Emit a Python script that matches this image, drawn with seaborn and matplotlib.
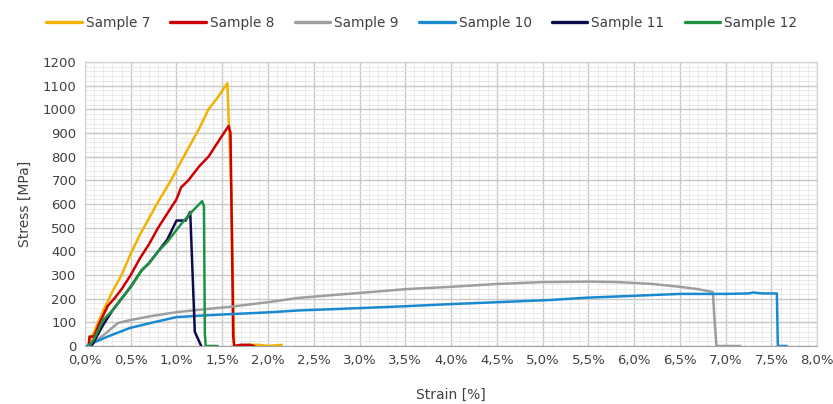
import pandas as pd
import seaborn as sns
import matplotlib.pyplot as plt
from matplotlib.ticker import MultipleLocator, FuncFormatter

# Stress-strain curves (strain in %, stress in MPa)
s7_strain = [0.03, 0.10, 0.20, 0.30, 0.40, 0.50, 0.60, 0.70, 0.80, 0.94, 1.05, 1.15, 1.25, 1.35, 1.45, 1.556, 1.60, 1.63, 1.70, 1.80, 1.90, 2.00, 2.15]
s7_stress = [0, 60, 150, 230, 300, 390, 470, 540, 610, 700, 780, 850, 920, 1000, 1050, 1110, 650, 0, 0, 5, 5, 0, 5]

s8_strain = [0.04, 0.05, 0.10, 0.15, 0.20, 0.25, 0.32, 0.40, 0.50, 0.60, 0.70, 0.80, 0.90, 1.00, 1.05, 1.13, 1.25, 1.35, 1.45, 1.57, 1.59, 1.62, 1.63, 1.70, 1.80, 1.85]
s8_stress = [0, 40, 40, 90, 130, 170, 200, 240, 300, 370, 430, 500, 560, 620, 670, 700, 760, 800, 860, 930, 900, 40, 0, 5, 5, 0]

s9_strain = [0.05, 0.20, 0.36, 0.50, 0.75, 1.00, 1.30, 1.57, 2.00, 2.33, 2.70, 3.00, 3.50, 4.00, 4.50, 5.00, 5.50, 5.82, 6.20, 6.50, 6.70, 6.86, 6.88, 6.90, 7.16]
s9_stress = [0, 45, 97, 110, 128, 143, 155, 165, 185, 203, 215, 224, 240, 250, 262, 270, 272, 270, 262, 250, 240, 228, 100, 0, 0]

s10_strain = [0.02, 0.10, 0.25, 0.49, 0.75, 1.00, 1.25, 1.50, 2.00, 2.33, 3.00, 3.50, 4.00, 4.50, 5.07, 5.48, 5.93, 6.50, 7.00, 7.25, 7.30, 7.40, 7.56, 7.57, 7.67]
s10_stress = [0, 15, 40, 76, 100, 122, 128, 133, 142, 150, 160, 168, 177, 185, 194, 204, 211, 220, 220, 222, 226, 222, 222, 0, 0]

s11_strain = [0.07, 0.10, 0.20, 0.30, 0.40, 0.50, 0.62, 0.70, 0.80, 0.90, 1.00, 1.10, 1.15, 1.20, 1.27]
s11_stress = [0, 20, 90, 150, 200, 250, 320, 350, 400, 450, 530, 530, 566, 60, 0]

s12_strain = [0.05, 0.10, 0.20, 0.30, 0.40, 0.50, 0.62, 0.70, 0.80, 0.90, 1.04, 1.15, 1.28, 1.30, 1.31, 1.32, 1.45]
s12_stress = [0, 30, 110, 150, 200, 250, 320, 350, 400, 440, 510, 560, 612, 590, 50, 0, 0]

samples = ["Sample 7", "Sample 8", "Sample 9", "Sample 10", "Sample 11", "Sample 12"]
colors = ["#F2B200", "#CC0000", "#9E9E9E", "#1A8AD0", "#0B0B4A", "#1F9142"]

strains = [s7_strain, s8_strain, s9_strain, s10_strain, s11_strain, s12_strain]
stresses = [s7_stress, s8_stress, s9_stress, s10_stress, s11_stress, s12_stress]

frames = []
for name, x, y in zip(samples, strains, stresses):
    frames.append(pd.DataFrame({"strain": x, "stress": y, "sample": name}))
df = pd.concat(frames, ignore_index=True)

sns.set_style("white")
plt.rcParams['font.family'] = ['DejaVu Sans']

fig = plt.figure(figsize=(8.33, 4.04), dpi=100)
ax = fig.add_axes([0.102, 0.1436, 0.879, 0.703])

sns.lineplot(data=df, x="strain", y="stress", hue="sample", hue_order=samples,
             palette=colors, sort=False, estimator=None, linewidth=1.8, ax=ax)

ax.set_xlim(0, 8)
ax.set_ylim(0, 1200)
ax.xaxis.set_major_locator(MultipleLocator(0.5))
ax.xaxis.set_minor_locator(MultipleLocator(0.1))
ax.yaxis.set_major_locator(MultipleLocator(100))
ax.yaxis.set_minor_locator(MultipleLocator(20))
ax.xaxis.set_major_formatter(FuncFormatter(lambda v, p: f"{v:.1f}%".replace(".", ",")))

ax.grid(which="major", color="#C8C8C8", linewidth=1.0)
ax.grid(which="minor", color="#E6E6E6", linewidth=0.6)
ax.set_axisbelow(True)
for sp in ax.spines.values():
    sp.set_color("#D0D0D0")
    sp.set_linewidth(0.8)
ax.spines["bottom"].set_color("#A0A0A0")

ax.tick_params(axis="both", which="both", length=0, labelsize=9.5, colors="#404040", pad=6)
ax.set_xlabel("Strain [%]", fontsize=10, color="#404040", labelpad=15)
ax.set_ylabel("Stress [MPa]", fontsize=10, color="#404040", labelpad=8)

handles, labels = ax.get_legend_handles_labels()
for h in handles:
    h.set_linewidth(2.4)
ax.legend(handles, labels, loc="lower center", bbox_to_anchor=(0.46, 1.07), ncol=6,
          frameon=False, fontsize=9.8, handlelength=2.6, handletextpad=0.3,
          columnspacing=1.5, labelcolor="#404040")

fig.savefig("out.png", dpi=100)
